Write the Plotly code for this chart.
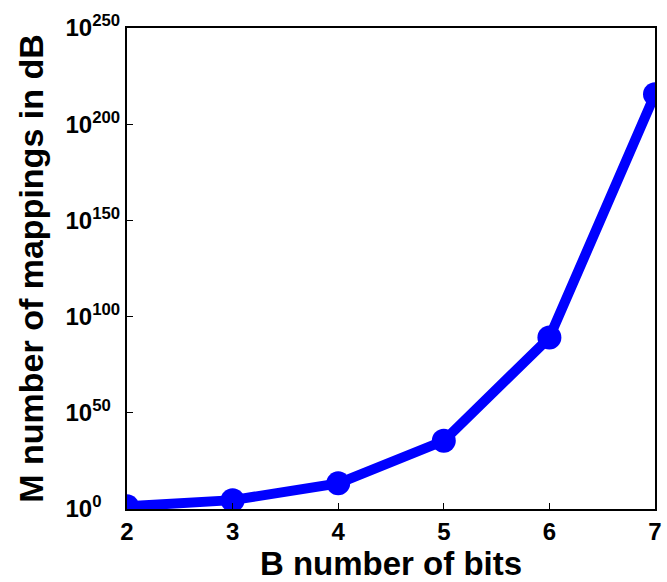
import plotly.graph_objects as go

bits = [2, 3, 4, 5, 6, 7]
# M = (2^B)! mappings
mappings = [24.0, 40320.0, 2.0923e13, 2.6313e35, 1.2689e89, 3.8562e215]

y_exponents = [0, 50, 100, 150, 200, 250]
x_ticks = [2, 3, 4, 5, 6, 7]

font_family = "Liberation Sans, Arial, sans-serif"


def exp_label(e):
    s = str(e)
    pad = "\u2007" * (3 - len(s))
    return "10<sup>" + s + pad + "</sup>"


fig = go.Figure()
fig.add_trace(go.Scatter(
    x=bits, y=mappings, mode="lines+markers",
    line=dict(color="#0000ff", width=10),
    marker=dict(color="#0000ff", size=24),
    cliponaxis=True,
))

fig.update_layout(
    width=667, height=582,
    margin=dict(l=127, r=5, t=28, b=73),
    paper_bgcolor="white", plot_bgcolor="white",
    showlegend=False,
    font=dict(family=font_family, color="black"),
)
fig.update_xaxes(
    range=[2, 7], tickvals=x_ticks, ticktext=[str(v) for v in x_ticks],
    ticks="inside", ticklen=6, tickcolor="black", tickwidth=1,
    showline=True, linecolor="black", linewidth=2, mirror=True,
    showgrid=False, zeroline=False, ticklabelstandoff=0,
    tickfont=dict(size=24, family=font_family, weight="bold"),
    title=dict(text="B number of bits", standoff=7,
               font=dict(size=33, family=font_family, weight="bold")),
)
fig.update_yaxes(
    type="log", range=[0, 250],
    tickvals=[10.0 ** e for e in y_exponents],
    ticktext=[exp_label(e) for e in y_exponents],
    ticks="inside", ticklen=6, tickcolor="black", tickwidth=1,
    showline=True, linecolor="black", linewidth=2, mirror=True,
    showgrid=False, zeroline=False,
    tickfont=dict(size=24, family=font_family, weight="bold"),
    title=dict(text="M number of mappings in dB", standoff=12,
               font=dict(size=34, family=font_family, weight="bold")),
)

fig.write_html("out.html")
